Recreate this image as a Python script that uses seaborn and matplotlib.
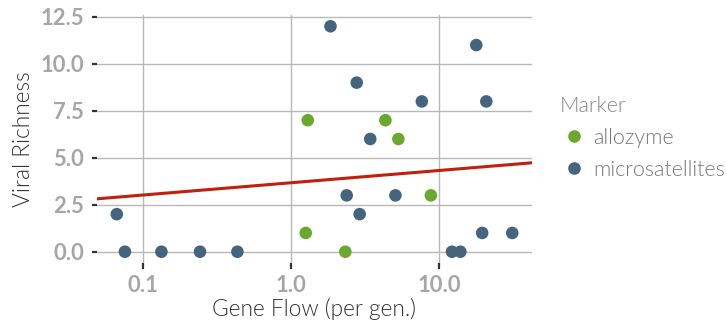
import numpy as np
import pandas as pd
import matplotlib
matplotlib.use("Agg")
import matplotlib.pyplot as plt
import seaborn as sns

# Data
allozyme_flow = [1.30, 4.34, 5.31, 8.79, 1.26, 2.33]
allozyme_rich = [7, 7, 6, 3, 1, 0]
micro_flow = [0.067, 0.076, 0.134, 0.244, 0.436, 1.85, 17.8, 2.78, 7.64, 20.8,
              3.43, 2.38, 5.07, 2.91, 19.5, 31.1, 12.2, 13.9]
micro_rich = [2, 0, 0, 0, 0, 12, 11, 9, 8, 8,
              6, 3, 3, 2, 1, 1, 0, 0]
# fitted trend line: richness = a + b * log10(flow)
trend_intercept = 3.67
trend_slope = 0.654
x_ticks = [0.1, 1.0, 10.0]
x_tick_labels = ["0.1", "1.0", "10.0"]
y_ticks = [0.0, 2.5, 5.0, 7.5, 10.0, 12.5]
y_tick_labels = ["0.0", "2.5", "5.0", "7.5", "10.0", "12.5"]

df = pd.DataFrame({
    "flow": allozyme_flow + micro_flow,
    "rich": allozyme_rich + micro_rich,
    "Marker": ["allozyme"] * len(allozyme_flow) + ["microsatellites"] * len(micro_flow),
})

sns.set_theme(style="white")
plt.rcParams["font.family"] = ["Lato", "DejaVu Sans"]

fig = plt.figure(figsize=(7.27, 3.27), dpi=100)
ax = fig.add_axes([97 / 727, (327 - 263) / 327, (532 - 97) / 727, (263 - 15) / 327])

ax.set_xscale("log")
lx = np.log10(df["flow"])
span = lx.max() - lx.min()
ax.set_xlim(10 ** (lx.min() - 0.05 * span), 10 ** (lx.max() + 0.05 * span))
ax.set_ylim(-0.6, 12.6)

palette = {"allozyme": "#6aa82e", "microsatellites": "#45657f"}
sns.scatterplot(data=df, x="flow", y="rich", hue="Marker", palette=palette,
                s=82, linewidth=0, ax=ax, zorder=3)

xs = np.logspace(np.log10(ax.get_xlim()[0]), np.log10(ax.get_xlim()[1]), 50)
sns.lineplot(x=xs, y=trend_intercept + trend_slope * np.log10(xs), color="#c0200f",
             lw=2.2, ax=ax, zorder=2, legend=False)

ax.set_xticks(x_ticks)
ax.set_xticklabels(x_tick_labels)
ax.set_yticks(y_ticks)
ax.set_yticklabels(y_tick_labels)
ax.minorticks_off()
ax.grid(True, color="#b8b8b8", linewidth=1.0)
ax.set_axisbelow(True)
for s in ax.spines.values():
    s.set_visible(False)
ax.tick_params(axis="x", length=4.3, width=1.6, color="#333333",
               labelcolor="#a6a6a6", labelsize=15.8, pad=4.5, bottom=True)
ax.tick_params(axis="y", length=3.8, width=1.6, color="#333333",
               labelcolor="#a6a6a6", labelsize=15.8, pad=5.5, left=True)
for lab in ax.get_xticklabels() + ax.get_yticklabels():
    lab.set_fontweight("bold")

ax.set_xlabel("Gene Flow (per gen.)", fontsize=16.3, color="#333333", fontweight=300, labelpad=1.5)
ax.set_ylabel("Viral Richness", fontsize=16.3, color="#333333", fontweight=300, labelpad=5)

leg = ax.legend(title="Marker", loc="upper left", bbox_to_anchor=(560 / 727, (327 - 96) / 327),
                bbox_transform=fig.transFigure,
                frameon=False, fontsize=15.5, title_fontsize=15.5, markerscale=1.0,
                handletextpad=0.25, labelspacing=0.55, borderaxespad=0, borderpad=0,
                handlelength=1.3)
leg._legend_box.align = "left"
leg.get_title().set_color("#888888")
leg.get_title().set_fontweight(300)
for t in leg.get_texts():
    t.set_color("#777777")
    t.set_fontweight(300)

fig.savefig("out.png", dpi=100)
